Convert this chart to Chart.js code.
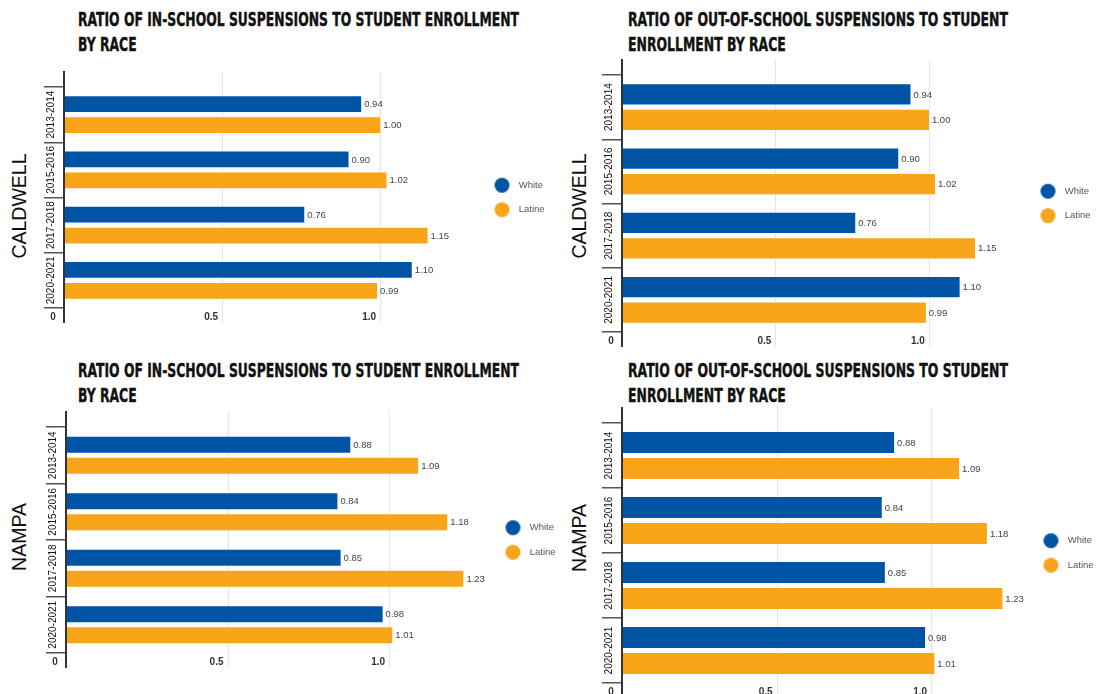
<!DOCTYPE html>
<html>
<head>
<meta charset="utf-8">
<title>Suspension ratios by race</title>
<script src="https://cdn.jsdelivr.net/npm/chart.js@4.4.1/dist/chart.umd.min.js"></script>
<style>
  html, body { margin: 0; padding: 0; background: #fff; }
  body { width: 1102px; height: 694px; position: relative; overflow: hidden; }
  canvas { position: absolute; }
  .panel-title {
    position: absolute;
    font-family: 'Liberation Sans Narrow', 'DejaVu Sans Condensed', 'Liberation Sans', sans-serif;
    font-weight: 700;
    font-size: 19.5px;
    line-height: 24.5px;
    color: #111;
    white-space: nowrap;
    transform-origin: 0 0;
    -webkit-text-stroke: 0.4px #111;
  }
  .panel-title span { display: inline-block; }
  .row-label {
    position: absolute;
    font-family: 'Liberation Sans', Arial, sans-serif;
    font-size: 19.5px;
    line-height: 1;
    color: #111;
    white-space: nowrap;
    transform: translate(-50%, -50%) rotate(-90deg);
  }
</style>
</head>
<body>

<div class="panel-title" style="left:78px;top:8px" data-w="441"><span>RATIO OF IN-SCHOOL SUSPENSIONS TO STUDENT ENROLLMENT</span><br><span>BY RACE</span></div>
<div class="panel-title" style="left:628px;top:8px" data-w="380"><span>RATIO OF OUT-OF-SCHOOL SUSPENSIONS TO STUDENT</span><br><span>ENROLLMENT BY RACE</span></div>
<div class="panel-title" style="left:78px;top:359px" data-w="441"><span>RATIO OF IN-SCHOOL SUSPENSIONS TO STUDENT ENROLLMENT</span><br><span>BY RACE</span></div>
<div class="panel-title" style="left:628px;top:359px" data-w="380"><span>RATIO OF OUT-OF-SCHOOL SUSPENSIONS TO STUDENT</span><br><span>ENROLLMENT BY RACE</span></div>

<div class="row-label" style="left:20px;top:206px">CALDWELL</div>
<div class="row-label" style="left:580px;top:206px">CALDWELL</div>
<div class="row-label" style="left:20px;top:537px">NAMPA</div>
<div class="row-label" style="left:580px;top:538px">NAMPA</div>

<canvas id="caldwellIn"></canvas>
<canvas id="caldwellOut"></canvas>
<canvas id="nampaIn"></canvas>
<canvas id="nampaOut"></canvas>

<script>
const years = ['2013-2014', '2015-2016', '2017-2018', '2020-2021']
const seriesNames = ['White', 'Latine']
const seriesColors = ['#0054A6', '#F9A51A']

const caldwellInWhite = [0.94, 0.90, 0.76, 1.10]
const caldwellInLatine = [1.00, 1.02, 1.15, 0.99]
const caldwellOutWhite = [0.94, 0.90, 0.76, 1.10]
const caldwellOutLatine = [1.00, 1.02, 1.15, 0.99]
const nampaInWhite = [0.88, 0.84, 0.85, 0.98]
const nampaInLatine = [1.09, 1.18, 1.23, 1.01]
const nampaOutWhite = [0.88, 0.84, 0.85, 0.98]
const nampaOutLatine = [1.09, 1.18, 1.23, 1.01]

const xTickValues = [0, 0.5, 1.0]
const xMax = 1.3

const sans = "'Liberation Sans', Arial, sans-serif"

// squeeze each heading to its column width
document.querySelectorAll('.panel-title').forEach(el => {
  const first = el.querySelector('span')
  const k = Number(el.dataset.w) / first.getBoundingClientRect().width
  el.style.transform = 'scaleX(' + k + ')'
})

function dot(color) {
  const c = document.createElement('canvas')
  c.width = 17
  c.height = 17
  const g = c.getContext('2d')
  g.fillStyle = color
  g.beginPath()
  g.arc(8.5, 8.5, 7.5, 0, Math.PI * 2)
  g.fill()
  return c
}
const legendDots = seriesColors.map(dot)

// grid lines and the zero axis run a bit past the bar area
const extendedGrid = {
  id: 'extendedGrid',
  beforeDatasetsDraw(chart) {
    const { ctx, chartArea, scales: { x } } = chart
    ctx.save()
    ctx.strokeStyle = '#e6e6e6'
    ctx.lineWidth = 1
    x.ticks.forEach(t => {
      if (t.value === 0) return
      const px = Math.round(x.getPixelForValue(t.value)) + 0.5
      ctx.beginPath()
      ctx.moveTo(px, chartArea.top - 16)
      ctx.lineTo(px, chartArea.bottom + 15)
      ctx.stroke()
    })
    ctx.restore()
  },
  afterDatasetsDraw(chart) {
    const { ctx, chartArea, scales: { x } } = chart
    const px = Math.round(x.getPixelForValue(0))
    ctx.save()
    ctx.strokeStyle = '#333'
    ctx.lineWidth = 2
    ctx.beginPath()
    ctx.moveTo(px, chartArea.top - 16)
    ctx.lineTo(px, chartArea.bottom + 15)
    ctx.stroke()
    ctx.restore()
  }
}

const valueLabels = {
  id: 'valueLabels',
  afterDatasetsDraw(chart) {
    const { ctx } = chart
    ctx.save()
    ctx.font = '9.5px ' + sans
    ctx.fillStyle = '#444'
    ctx.textAlign = 'left'
    ctx.textBaseline = 'middle'
    chart.data.datasets.forEach((ds, i) => {
      chart.getDatasetMeta(i).data.forEach((bar, j) => {
        ctx.fillText(ds.data[j].toFixed(2), bar.x + 3, bar.y + 0.5)
      })
    })
    ctx.restore()
  }
}

// year labels sit rotated between the category tick marks
const yearLabels = {
  id: 'yearLabels',
  afterDraw(chart) {
    const { ctx, chartArea, scales: { y } } = chart
    ctx.save()
    ctx.font = '10px ' + sans
    ctx.fillStyle = '#111'
    ctx.textAlign = 'center'
    ctx.textBaseline = 'middle'
    y.ticks.forEach((t, i) => {
      ctx.save()
      ctx.translate(chartArea.left - 12.5, y.getPixelForTick(i))
      ctx.rotate(-Math.PI / 2)
      ctx.fillText(y.getLabelForValue(t.value), 0, 0)
      ctx.restore()
    })
    ctx.restore()
  }
}

function drawPanel(id, p, white, latine) {
  const canvas = document.getElementById(id)
  canvas.style.left = p.left + 'px'
  canvas.style.top = p.top + 'px'
  canvas.width = p.width
  canvas.height = p.height

  const barStyle = { categoryPercentage: p.cat, barPercentage: p.bar, borderWidth: 0 }

  return new Chart(canvas, {
    type: 'bar',
    data: {
      labels: years,
      datasets: [
        { label: seriesNames[0], data: white, backgroundColor: seriesColors[0], ...barStyle },
        { label: seriesNames[1], data: latine, backgroundColor: seriesColors[1], ...barStyle }
      ]
    },
    options: {
      indexAxis: 'y',
      responsive: false,
      animation: false,
      devicePixelRatio: 1,
      layout: { padding: { top: p.padTop, bottom: 2, left: 0, right: 0 } },
      plugins: {
        tooltip: { enabled: false },
        legend: {
          position: 'right',
          align: 'center',
          fullSize: false,
          maxWidth: 70,
          labels: {
            usePointStyle: true,
            pointStyleWidth: 24,
            padding: 15,
            color: '#555',
            font: { family: sans, size: 9.5 },
            generateLabels(chart) {
              const items = Chart.defaults.plugins.legend.labels.generateLabels(chart)
              items.forEach((item, i) => { item.pointStyle = legendDots[i] })
              return items
            }
          }
        }
      },
      scales: {
        x: {
          min: 0,
          max: xMax,
          afterBuildTicks: scale => { scale.ticks = xTickValues.map(v => ({ value: v })) },
          afterFit: scale => { scale.height = 16 },
          grid: { display: false, drawTicks: false },
          border: { display: false },
          ticks: {
            autoSkip: false,
            maxRotation: 0,
            padding: 3,
            labelOffset: -11,
            color: '#333',
            font: { family: sans, size: 10, weight: 'bold' },
            callback: v => v === 0 ? '0' : v.toFixed(1)
          }
        },
        y: {
          afterFit: scale => { scale.width = p.axisWidth },
          border: { display: false },
          grid: { drawOnChartArea: false, drawTicks: true, tickLength: 20, color: '#555', lineWidth: 1.5 },
          ticks: { display: false }
        }
      }
    },
    plugins: [extendedGrid, valueLabels, yearLabels]
  })
}

drawPanel('caldwellIn',
  { left: 0, top: 70, width: 545, height: 256, padTop: 17, axisWidth: 64, cat: 0.76, bar: 0.76 },
  caldwellInWhite, caldwellInLatine)
drawPanel('caldwellOut',
  { left: 560, top: 57, width: 531, height: 293, padTop: 18, axisWidth: 62, cat: 0.79, bar: 0.8 },
  caldwellOutWhite, caldwellOutLatine)
drawPanel('nampaIn',
  { left: 0, top: 409, width: 556, height: 262, padTop: 18, axisWidth: 66, cat: 0.743, bar: 0.76 },
  nampaInWhite, nampaInLatine)
drawPanel('nampaOut',
  { left: 560, top: 406, width: 534, height: 295, padTop: 17, axisWidth: 62, cat: 0.8, bar: 0.81 },
  nampaOutWhite, nampaOutLatine)
</script>
</body>
</html>
